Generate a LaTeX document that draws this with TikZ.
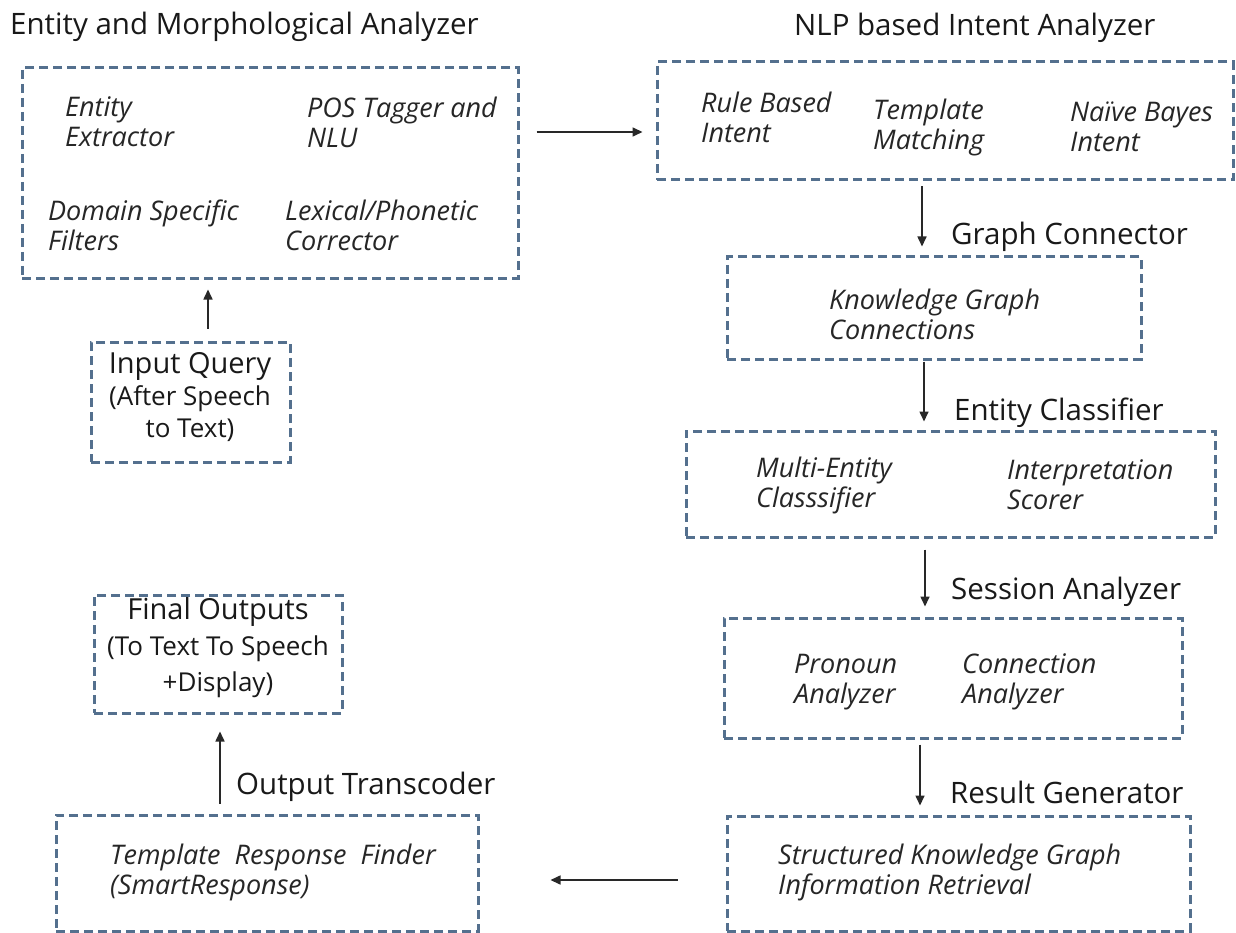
\documentclass[tikz,border=0pt]{standalone}
\usepackage{fontspec}
\setmainfont{Open Sans}
\usetikzlibrary{arrows.meta}
\definecolor{boxc}{RGB}{84,112,142}
\definecolor{arrc}{RGB}{40,40,40}
\newcommand{\ttlfont}{\fontsize{29.5}{34}\selectfont}
\newcommand{\itmfont}{\fontsize{27}{30}\selectfont\itshape}
\newcommand{\bigln}{\fontsize{29}{32}\selectfont}
\begin{document}
\begin{tikzpicture}[x=1pt,y=-1pt,
  dbox/.style={draw=boxc, line width=3pt, dash pattern=on 9pt off 5pt, rectangle, inner sep=0pt},
  itm/.style={anchor=west, inner sep=0pt, align=left, font=\itmfont, text=black!85},
  ttl/.style={anchor=west, inner sep=0pt, font=\ttlfont, text=black!90},
  arr/.style={draw=arrc, line width=1.6pt, -{Triangle[length=10pt,width=9pt]}}]
\useasboundingbox[fill=white] (0,0) rectangle (1236,933);
% boxes
\node[dbox, minimum width=496pt, minimum height=210pt] (A) at (270,173) {};
\node[dbox, minimum width=576pt, minimum height=118pt] (B) at (945,121) {};
\node[dbox, minimum width=414pt, minimum height=102pt] (C) at (934,308) {};
\node[dbox, minimum width=529pt, minimum height=106pt] (D) at (950.5,484) {};
\node[dbox, minimum width=458pt, minimum height=120pt] (E) at (953,678) {};
\node[dbox, minimum width=463pt, minimum height=115pt] (F) at (958.5,873.5) {};
\node[dbox, minimum width=422pt, minimum height=116pt] (G) at (267,873) {};
\node[dbox, minimum width=248pt, minimum height=118pt] (H) at (218,654) {};
\node[dbox, minimum width=199pt, minimum height=120pt] (I) at (190.5,402) {};
% titles and labels
\node[ttl] (tA) at (10,27) {Entity and Morphological Analyzer};
\node[ttl] (tB) at (794,28) {NLP based Intent Analyzer};
\node[ttl] (tC) at (951,237) {Graph Connector};
\node[ttl] (tD) at (954,413) {Entity Classifier};
\node[ttl] (tE) at (951,592) {Session Analyzer};
\node[ttl] (tF) at (950,792) {Result Generator};
\node[ttl] (tG) at (236,787) {Output Transcoder};
% items
\node[itm] (a1) at (65,122) {Entity\\Extractor};
\node[itm] (a2) at (307,122) {POS Tagger and\\NLU};
\node[itm] (a3) at (48,225) {Domain Specific\\Filters};
\node[itm] (a4) at (285,225) {Lexical/Phonetic\\Corrector};
\node[itm] (b1) at (701,117) {Rule Based\\Intent};
\node[itm] (b2) at (873,127) {Template\\Matching};
\node[itm] (b3) at (1070,127) {Naïve Bayes\\Intent};
\node[itm] (c1) at (829,314) {Knowledge Graph\\Connections};
\node[itm] (d1) at (756,485) {Multi-Entity\\Classsifier};
\node[itm] (d2) at (1007,485) {Interpretation\\Scorer};
\node[itm] (e1) at (794,682) {Pronoun\\Analyzer};
\node[itm] (e2) at (962,682) {Connection\\Analyzer};
\node[itm] (f1) at (778,872) {Structured Knowledge Graph\\Information Retrieval};
\node[itm] (g1) at (110,872) {Template\ \ Response\ \ Finder\\(SmartResponse)};
\node[inner sep=0pt, align=center, font=\fontsize{26}{36}\selectfont, text=black!90] (h1) at (218,648) {{\bigln Final Outputs}\\(To Text To Speech\\+Display)};
\node[inner sep=0pt, align=center, font=\fontsize{26}{32}\selectfont, text=black!90] (i1) at (190,397) {{\bigln Input Query}\\(After Speech\\to Text)};
% arrow guide coordinates
\coordinate (yab) at (0,132);
\coordinate (xbc) at (922,0);
\coordinate (xcd) at (924,0);
\coordinate (xde) at (925,0);
\coordinate (xef) at (920,0);
\coordinate (yfg) at (0,880);
\coordinate (xgh) at (220,0);
\coordinate (xia) at (208,0);
% arrows
\draw[arr, shorten <=17pt, shorten >=13pt] (A.east |- yab) -- (B.west |- yab);
\draw[arr, shorten <=5pt, shorten >=9pt] (B.south -| xbc) -- (C.north -| xbc);
\draw[arr, shorten <=1pt, shorten >=8pt] (C.south -| xcd) -- (D.north -| xcd);
\draw[arr, shorten <=11pt, shorten >=10pt] (D.south -| xde) -- (E.north -| xde);
\draw[arr, shorten <=5pt, shorten >=9pt] (E.south -| xef) -- (F.north -| xef);
\draw[arr, shorten <=48pt, shorten >=71pt] (F.west |- yfg) -- (G.east |- yfg);
\draw[arr, shorten <=10pt, shorten >=17pt] (G.north -| xgh) -- (H.south -| xgh);
\draw[arr, shorten <=12pt, shorten >=10pt] (I.north -| xia) -- (A.south -| xia);
\end{tikzpicture}
\end{document}
